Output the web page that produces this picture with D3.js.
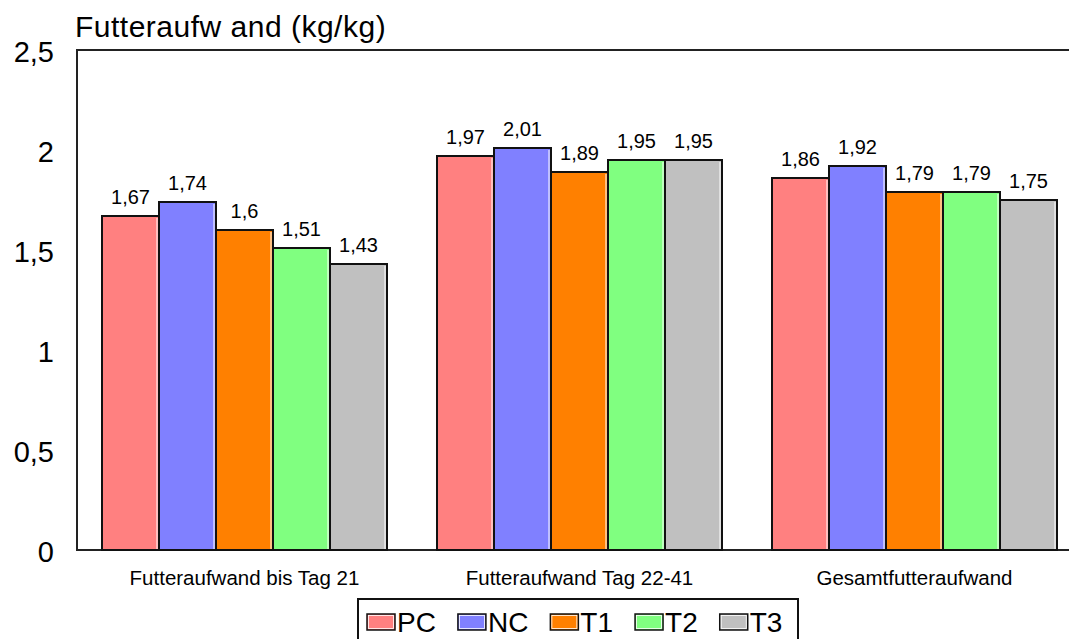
<!DOCTYPE html>
<html><head><meta charset="utf-8">
<script src="https://cdn.jsdelivr.net/npm/d3@7"></script>
<style>body{margin:0;background:#fff}svg{display:block;font-family:"Liberation Sans",Arial,sans-serif}</style>
</head><body>
<svg id="c" width="1069" height="639"></svg>
<script>
const categories = ["Futteraufwand bis Tag 21", "Futteraufwand Tag 22-41", "Gesamtfutteraufwand"];
const seriesNames = ["PC", "NC", "T1", "T2", "T3"];
const PC = [1.67, 1.97, 1.86];
const NC = [1.74, 2.01, 1.92];
const T1 = [1.6, 1.89, 1.79];
const T2 = [1.51, 1.95, 1.79];
const T3 = [1.43, 1.95, 1.75];
const seriesValues = [PC, NC, T1, T2, T3];
const colors = ["#FF8080", "#8080FF", "#FF8000", "#80FF80", "#C0C0C0"];
const yTicks = [0, 0.5, 1, 1.5, 2, 2.5];
const yTitle = "Futteraufw and (kg/kg)";

const svg = d3.select("#c");
const L = 77, R = 1082, T = 50, B = 550;
const x = d3.scaleBand().domain(categories).range([L, R]).padding(0);
const xi = d3.scaleBand().domain(seriesNames).range([25, x.bandwidth() - 25]).padding(0);
const y = d3.scaleLinear().domain([0, 2.5]).range([B, T]);
const fmt = v => String(v).replace(".", ",");

// frame
svg.append("path").attr("d", `M${R},${T}H${L}V${B}H${R}`).attr("fill", "none").attr("stroke", "#222").attr("stroke-width", 2);

// y axis
const ya = svg.append("g").attr("transform", `translate(${L},0)`)
  .call(d3.axisLeft(y).tickValues(yTicks).tickSize(0).tickPadding(23).tickFormat(fmt));
ya.select(".domain").remove();
ya.selectAll("text").attr("font-size", 29).attr("font-family", "Liberation Sans, Arial, sans-serif").attr("fill", "#000").attr("dy", "0.38em");

// title
svg.append("text").attr("x", 75).attr("y", 37).attr("font-size", 30).attr("letter-spacing", 0.5).text(yTitle);

// bars
const data = [];
categories.forEach((c, ci) => seriesNames.forEach((s, si) => data.push({c, s, si, v: seriesValues[si][ci]})));
const g = svg.append("g");
const bars = g.selectAll("g.bar").data(data).join("g").attr("class", "bar");
bars.append("rect")
  .attr("x", d => x(d.c) + xi(d.s))
  .attr("y", d => y(d.v))
  .attr("width", xi.bandwidth())
  .attr("height", d => y(0) - y(d.v))
  .attr("fill", d => colors[d.si])
  .attr("stroke", "#111").attr("stroke-width", 2);
bars.append("line")
  .attr("x1", d => x(d.c) + xi(d.s) + xi.bandwidth() - 2)
  .attr("x2", d => x(d.c) + xi(d.s) + xi.bandwidth() - 2)
  .attr("y1", d => y(d.v) + 2).attr("y2", d => y(0) - 1)
  .attr("stroke", "#fff").attr("stroke-width", 1);
bars.append("text")
  .attr("x", d => x(d.c) + xi(d.s) + xi.bandwidth() / 2)
  .attr("y", d => y(d.v) - 12)
  .attr("text-anchor", "middle").attr("font-size", 20)
  .text(d => fmt(d.v));

// category labels
svg.append("g").selectAll("text").data(categories).join("text")
  .attr("x", d => x(d) + x.bandwidth() / 2).attr("y", 585)
  .attr("text-anchor", "middle").attr("font-size", 20.5).text(d => d);

// legend
const lg = svg.append("g");
lg.append("rect").attr("x", 358).attr("y", 599).attr("width", 440).attr("height", 60)
  .attr("fill", "#fff").attr("stroke", "#111").attr("stroke-width", 2);
let lx = 367;
seriesNames.forEach((s, i) => {
  lg.append("rect").attr("x", lx).attr("y", 614).attr("width", 28).attr("height", 16)
    .attr("fill", colors[i]).attr("stroke", "#111").attr("stroke-width", 1.5);
  lg.append("rect").attr("x", lx + 1.5).attr("y", 615.5).attr("width", 25).attr("height", 13)
    .attr("fill", "none").attr("stroke", "#fff").attr("stroke-width", 0.8);
  const t = lg.append("text").attr("x", lx + 30).attr("y", 632).attr("font-size", 28).text(s);
  lx += 30 + t.node().getComputedTextLength() + 22;
});
</script>
</body></html>
